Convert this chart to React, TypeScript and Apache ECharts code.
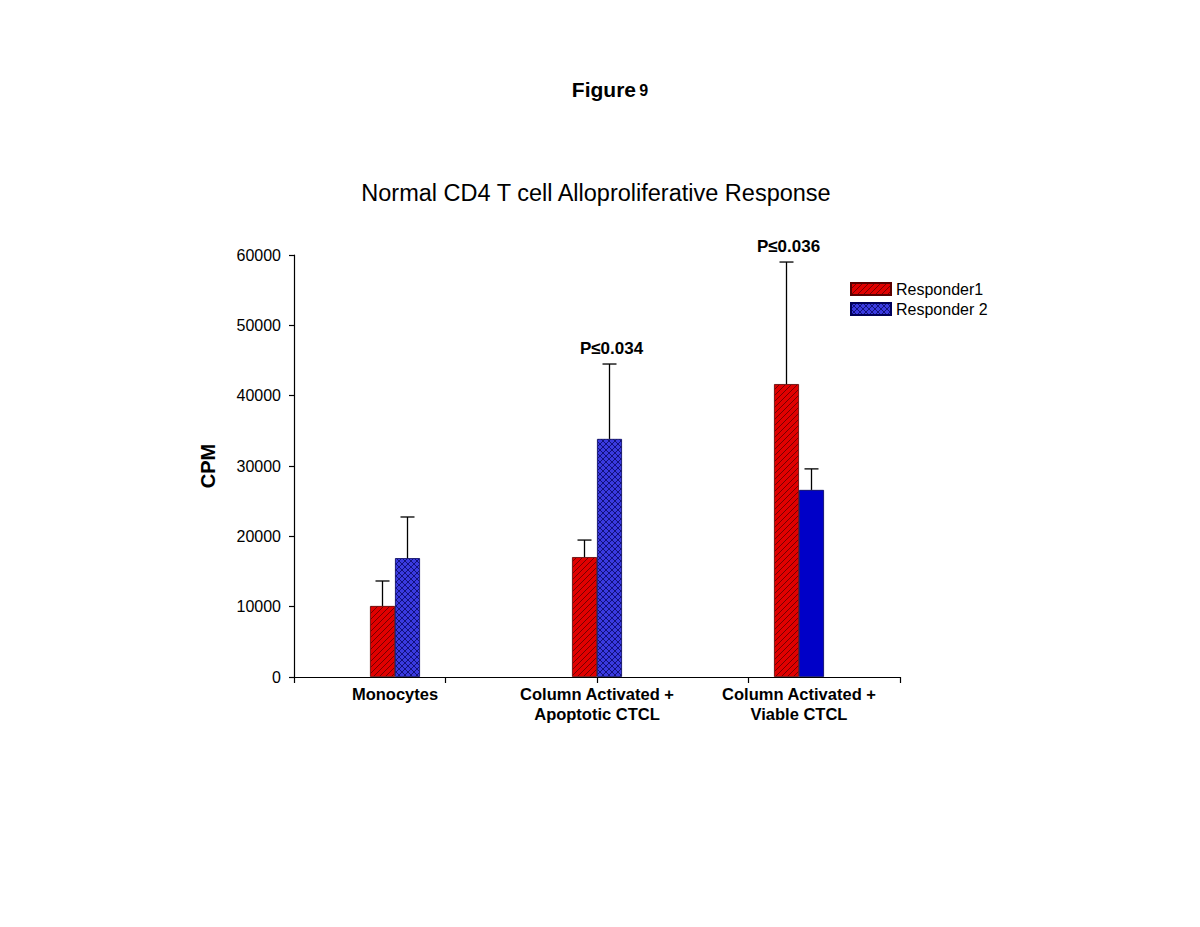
import React, { useEffect, useRef } from "react";
import * as echarts from "echarts";

const categories = ["Monocytes", "Column Activated +\nApoptotic CTCL", "Column Activated +\nViable CTCL"];
const seriesNames = ["Responder1", "Responder 2"];
const responder1 = [10100, 17050, 41650];
const responder2 = [16900, 33850, 26600];
const responder1Err = [3550, 2420, 17350];
const responder2Err = [5850, 10650, 2990];
// p-value annotation: [seriesIndex, categoryIndex, text]
const pLabels: [number, number, string][] = [
  [1, 1, "P≤0.034"],
  [0, 2, "P≤0.036"],
];
const yMin = 0;
const yMax = 60000;
const yInterval = 10000;
const chartTitle = "Normal CD4 T cell Alloproliferative Response";
const yName = "CPM";

function makePattern(bg: string, line: string, cross: boolean): string {
  const c = document.createElement("canvas");
  c.width = 6;
  c.height = 6;
  const ctx = c.getContext("2d")!;
  ctx.fillStyle = bg;
  ctx.fillRect(0, 0, 6, 6);
  ctx.strokeStyle = line;
  ctx.lineWidth = 0.9;
  ctx.beginPath();
  ctx.moveTo(-1, 7);
  ctx.lineTo(7, -1);
  ctx.moveTo(-1, 1);
  ctx.lineTo(1, -1);
  ctx.moveTo(5, 7);
  ctx.lineTo(7, 5);
  if (cross) {
    ctx.moveTo(-1, -1);
    ctx.lineTo(7, 7);
    ctx.moveTo(5, -1);
    ctx.lineTo(7, 1);
    ctx.moveTo(-1, 5);
    ctx.lineTo(1, 7);
  }
  ctx.stroke();
  return c.toDataURL();
}

export default function App() {
  const ref = useRef<HTMLDivElement>(null);
  useEffect(() => {
    if (!ref.current) return;
    const chart = echarts.init(ref.current, null, { renderer: "svg" });
    const redPat = { image: makePattern("#e00000", "#6a0000", false), repeat: "repeat", imageWidth: 6, imageHeight: 6 };
    const bluePat = { image: makePattern("#3a3ae0", "#0c0c70", true), repeat: "repeat", imageWidth: 6, imageHeight: 6 };

    const errData: any[] = [];
    const errLabels: string[] = [];
    [responder1, responder2].forEach((vals, s) => {
      const errs = s === 0 ? responder1Err : responder2Err;
      vals.forEach((v, i) => {
        errData.push([i, v, errs[i], s]);
        const p = pLabels.find((q) => q[0] === s && q[1] === i);
        errLabels.push(p ? p[2] : "");
      });
    });

    const font = "'Liberation Sans', Arial, sans-serif";

    chart.setOption({
      animation: false,
      backgroundColor: "#ffffff",
      textStyle: { fontFamily: font },
      graphic: [
        {
          type: "text",
          x: 610,
          y: 89,
          style: {
            text: "{a|Figure} {b|9}",
            align: "center",
            verticalAlign: "middle",
            rich: {
              a: { fontSize: 21, fontWeight: "bold", fontFamily: font, fill: "#000" },
              b: { fontSize: 16, fontWeight: "bold", fontFamily: font, fill: "#000", padding: [3, 0, 0, 0] },
            },
          },
        },
        {
          type: "text",
          x: 596,
          y: 193,
          style: {
            text: chartTitle,
            align: "center",
            verticalAlign: "middle",
            fontSize: 23.5,
            fontFamily: font,
            fill: "#000",
          },
        },
      ],
      legend: {
        data: seriesNames,
        orient: "vertical",
        left: 845,
        top: 276,
        icon: "rect",
        itemWidth: 40,
        itemHeight: 12,
        itemGap: 4,
        textStyle: { fontSize: 16, fontFamily: font, color: "#000" },
      },
      grid: { left: 294, right: 300, top: 255, bottom: 250, containLabel: false },
      xAxis: [
        {
          type: "category",
          data: categories,
          axisLine: { lineStyle: { color: "#000", width: 1.2 } },
          axisTick: { show: false },
          axisLabel: {
            fontSize: 16.5,
            fontWeight: "bold",
            color: "#000",
            fontFamily: font,
            margin: 7,
            lineHeight: 20,
            interval: 0,
          },
        },
        {
          type: "value",
          position: "bottom",
          min: 0,
          max: 4,
          interval: 1,
          axisLine: { show: false },
          axisTick: { show: true, length: 6, inside: false, lineStyle: { color: "#000", width: 1.2 } },
          axisLabel: { show: false },
          splitLine: { show: false },
        },
      ],
      yAxis: {
        type: "value",
        min: yMin,
        max: yMax,
        interval: yInterval,
        name: yName,
        nameLocation: "middle",
        nameGap: 76,
        nameRotate: 90,
        nameTextStyle: { fontSize: 20, fontWeight: "bold", color: "#000", fontFamily: font },
        axisLine: { show: true, lineStyle: { color: "#000", width: 1.2 } },
        axisTick: { show: true, length: 5, lineStyle: { color: "#000", width: 1.2 } },
        axisLabel: { fontSize: 16, color: "#000", fontFamily: font, margin: 13, formatter: (v: number) => String(v) },
        splitLine: { show: false },
      },
      series: [
        {
          name: seriesNames[0],
          type: "bar",
          xAxisIndex: 0,
          barWidth: 25,
          barGap: "0%",
          data: responder1,
          itemStyle: { color: redPat, borderColor: "#5a0000", borderWidth: 0.8 },
        },
        {
          name: seriesNames[1],
          type: "bar",
          xAxisIndex: 0,
          barWidth: 25,
          barGap: "0%",
          data: responder2.map((v, i) =>
            i === 2
              ? { value: v, itemStyle: { color: "#0000c8", borderColor: "#00005a", borderWidth: 0.8 } }
              : v
          ),
          itemStyle: { color: bluePat, borderColor: "#00005a", borderWidth: 0.8 },
        },
        {
          name: "err",
          type: "custom",
          xAxisIndex: 0,
          yAxisIndex: 0,
          data: errData,
          z: 5,
          renderItem: (params: any, api: any) => {
            const cat = api.value(0);
            const val = api.value(1);
            const err = api.value(2);
            const s = api.value(3);
            const base = api.coord([cat, val]);
            const top = api.coord([cat, val + err]);
            const x = base[0] + (s === 0 ? -12.5 : 12.5);
            const children: any[] = [
              { type: "line", shape: { x1: x, y1: base[1], x2: x, y2: top[1] }, style: { stroke: "#000", lineWidth: 1.3 } },
              { type: "line", shape: { x1: x - 7, y1: top[1], x2: x + 7, y2: top[1] }, style: { stroke: "#000", lineWidth: 1.3 } },
            ];
            const lbl = errLabels[params.dataIndex];
            if (lbl) {
              children.push({
                type: "text",
                x: x + 2,
                y: top[1] - 16,
                style: {
                  text: lbl,
                  align: "center",
                  verticalAlign: "middle",
                  fontSize: 17,
                  fontWeight: "bold",
                  fontFamily: font,
                  fill: "#000",
                },
              });
            }
            return { type: "group", children };
          },
        },
      ],
    });
    return () => chart.dispose();
  }, []);
  return <div ref={ref} style={{ position: "fixed", left: 0, top: 0, width: 1200, height: 927 }} />;
}
